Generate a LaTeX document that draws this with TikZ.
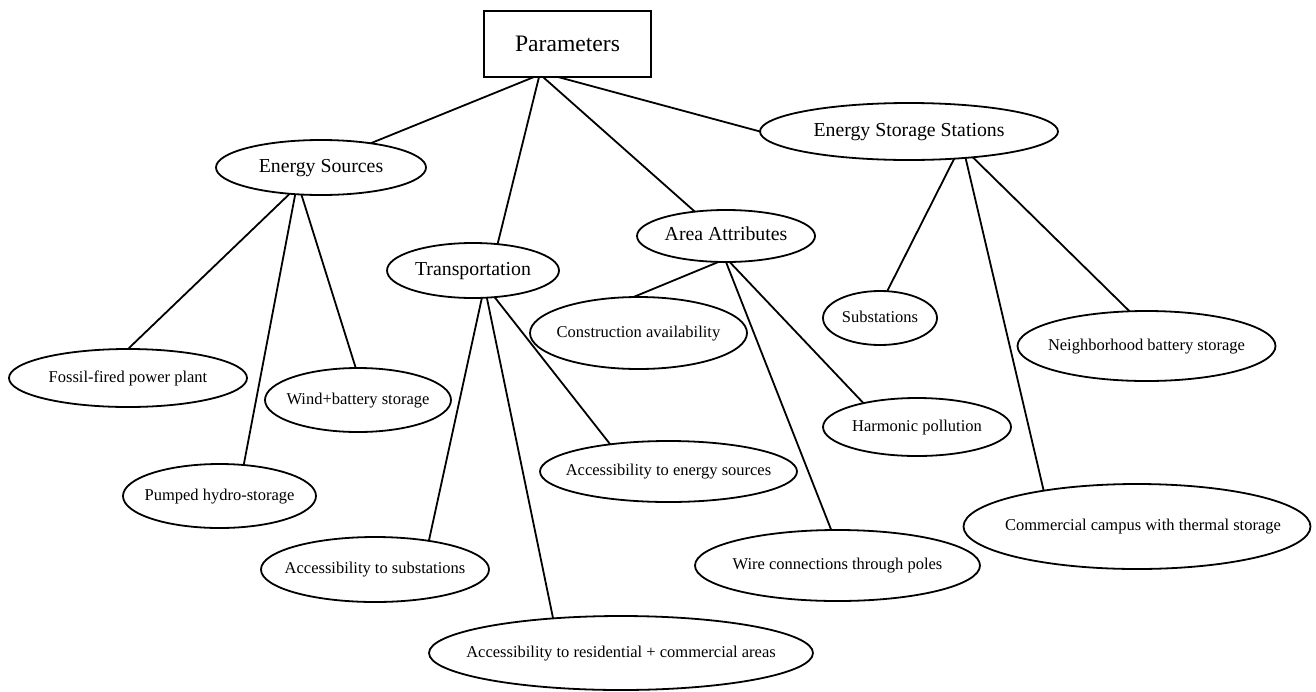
\documentclass[tikz,border=0pt]{standalone}
\usepackage{fontspec}
\setmainfont{Liberation Serif}
\usetikzlibrary{shapes.geometric}
\newcommand{\zw}[1]{\makebox[0pt]{#1}}
\begin{document}
\begin{tikzpicture}[x=1pt,y=-1pt,line width=1.8pt,
  boxnode/.style={draw,rectangle,inner sep=0pt,outer sep=0pt,
    font=\fontsize{23.6}{26}\selectfont,text height=21pt,text depth=5.5pt},
  mid/.style={draw,ellipse,inner sep=0pt,outer sep=0pt,
    font=\fontsize{19.8}{22}\selectfont,text height=14.8pt,text depth=5pt},
  lf/.style={draw,ellipse,inner sep=0pt,outer sep=0pt,
    font=\fontsize{16.5}{19}\selectfont,text height=12.4pt,text depth=4.1pt},
  link/.style={line width=1.8pt}]
\useasboundingbox (0,0) rectangle (1316,691);
% top
\node[boxnode,minimum width=167pt,minimum height=66pt] (P) at (567.5,44) {Parameters};
% second level
\node[mid,minimum width=210pt,minimum height=55pt] (ES) at (321,167.5) {\zw{Energy Sources}};
\node[mid,minimum width=298pt,minimum height=57pt] (ESS) at (909,131.5) {\zw{Energy Storage Stations}};
\node[mid,minimum width=172pt,minimum height=55pt] (TR) at (473,270.5) {\zw{Transportation}};
\node[mid,minimum width=178pt,minimum height=52pt] (AA) at (726,236) {\zw{Area Attributes}};
% leaves
\node[lf,minimum width=238pt,minimum height=58pt] (FO) at (128,378) {\zw{Fossil-fired power plant}};
\node[lf,minimum width=186pt,minimum height=64pt] (WI) at (358,400) {\zw{Wind+battery storage}};
\node[lf,minimum width=193pt,minimum height=64pt] (PU) at (219.5,496) {\zw{Pumped hydro-storage}};
\node[lf,minimum width=217pt,minimum height=72pt] (CO) at (638.5,333) {\zw{Construction availability}};
\node[lf,minimum width=257pt,minimum height=61pt] (AE) at (668.5,471.5) {\zw{Accessibility to energy sources}};
\node[lf,minimum width=228pt,minimum height=65pt] (AS) at (375,569.5) {\zw{Accessibility to substations}};
\node[lf,minimum width=384pt,minimum height=74pt] (AR) at (621,653) {\zw{Accessibility to residential + commercial areas}};
\node[lf,minimum width=188pt,minimum height=58pt] (HP) at (917,427) {\zw{Harmonic pollution}};
\node[lf,minimum width=285pt,minimum height=71pt] (WC) at (837.5,565.5) {\zw{Wire connections through poles}};
\node[lf,minimum width=114pt,minimum height=54pt] (SU) at (880,318) {\zw{Substations}};
\node[lf,minimum width=258pt,minimum height=70pt] (NB) at (1146.5,346) {\zw{Neighborhood battery storage}};
\node[lf,minimum width=347pt,minimum height=85pt] (CC) at (1137,526.5) {\zw{\hspace{12pt}Commercial campus with thermal storage}};
% connectors
\draw[link] ([xshift=-33.5pt]P.south) -- (ES.26.1);
\draw[link] ([xshift=-28.5pt]P.south) -- (TR.47.7);
\draw[link] ([xshift=-24.5pt]P.south) -- (AA.142.9);
\draw[link] ([xshift=-9.5pt]P.south) -- (ESS.west);
\draw[link] (ES.220.3) -- (FO.north);
\draw[link] (ES.226.9) -- (PU.52.8);
\draw[link] (ES.234.9) -- (WI.94);
\draw[link] (TR.288.2) -- (AS.28.5);
\draw[link] (TR.297.3) -- (AR.153);
\draw[link] (TR.309.6) -- (AE.155.1);
\draw[link] (AA.254.9) -- (CO.98.7);
\draw[link] (AA.south) -- (WC.100.4);
\draw[link] (AA.278.7) -- (HP.156.3);
\draw[link] (ESS.329.5) -- (SU.75.5);
\draw[link] (ESS.335.6) -- (CC.159.8);
\draw[link] (ESS.338.8) -- (NB.116.8);
\end{tikzpicture}
\end{document}
